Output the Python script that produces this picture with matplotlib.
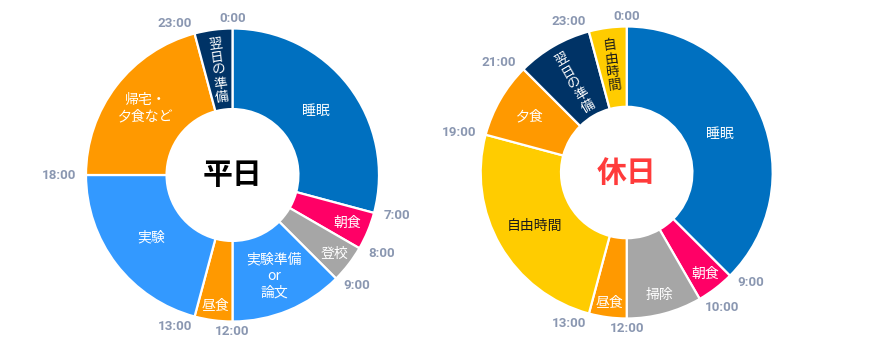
import numpy as np
import matplotlib
matplotlib.use('Agg')
import matplotlib.pyplot as plt

plt.rcParams['font.family'] = ['Noto Sans CJK JP', 'DejaVu Sans']

# ---------------- data ----------------
weekday_title = '平日'
weekday_labels = ['睡眠', '朝食', '登校', '実験準備\nor\n論文', '昼食', '実験', '帰宅・\n夕食など', '翌日の準備']
weekday_hours = [7, 1, 1, 3, 1, 5, 5, 1]

holiday_title = '休日'
holiday_labels = ['睡眠', '朝食', '掃除', '昼食', '自由時間', '夕食', '翌日の準備', '自由時間']
holiday_hours = [9, 1, 2, 1, 6, 2, 2, 1]

# ---------------- style ----------------
C_SLEEP = '#0070c0'
C_MEAL = '#ff9900'
C_BREAK = '#ff0066'
C_GRAY = '#a6a6a6'
C_LIGHT = '#3399ff'
C_NAVY = '#003366'
C_FREE = '#ffcc00'

weekday_colors = [C_SLEEP, C_BREAK, C_GRAY, C_LIGHT, C_MEAL, C_LIGHT, C_MEAL, C_NAVY]
holiday_colors = [C_SLEEP, C_BREAK, C_GRAY, C_MEAL, C_FREE, C_MEAL, C_NAVY, C_FREE]
weekday_text = ['white'] * 8
holiday_text = ['white', 'white', 'white', 'white', '#1a1a1a', 'white', 'white', '#1a1a1a']
weekday_radius = [0.715, 0.85, 0.88, 0.745, 0.905, 0.70, 0.75, 0.72]
holiday_radius = [0.69, 0.88, 0.87, 0.90, 0.73, 0.77, 0.71, 0.74]
weekday_vertical = [False] * 7 + [True]
holiday_vertical = [False] * 6 + [True, True]

HOUR_COLOR = '#8a97b1'

fig = plt.figure(figsize=(8.75, 3.5), dpi=100)
ax = fig.add_axes([0, 0, 1, 1])


def donut(cx, cy, R, hours, labels, colors, tcolors, radii, vertical, title, title_color):
    ax.pie(hours, colors=colors, startangle=90, counterclock=False,
           radius=R, center=(cx, cy), frame=True,
           wedgeprops=dict(width=R * 0.55, edgecolor='white', linewidth=1.6))
    bounds = np.concatenate([[0], np.cumsum(hours)])
    total = bounds[-1]
    for i, lab in enumerate(labels):
        mid = (bounds[i] + bounds[i + 1]) / 2 / total * 2 * np.pi
        r = radii[i] * R
        x = cx + r * np.sin(mid)
        y = cy + r * np.cos(mid)
        if vertical[i]:
            txt = '\n'.join(lab)
            rot = (-np.degrees(mid)) % 360
            ax.text(x, y, txt, color=tcolors[i], fontsize=9.8, ha='center', va='center',
                    rotation=rot, rotation_mode='anchor', linespacing=0.95,
                    multialignment='center')
        else:
            ax.text(x, y, lab, color=tcolors[i], fontsize=10, ha='center', va='center',
                    linespacing=1.25, multialignment='center')
    for b in bounds[:-1]:
        a = b / total * 2 * np.pi
        s, c = np.sin(a), np.cos(a)
        x = cx + (R + 10) * s
        y = cy + (R + 10) * c
        ha = 'left' if s > 0.05 else ('right' if s < -0.05 else 'center')
        ax.text(x, y, f'{int(b)}:00', color=HOUR_COLOR, fontsize=9.6,
                fontweight='bold', family=['Roboto', 'DejaVu Sans'],
                ha=ha, va='center')
    ax.text(cx, cy, title, color=title_color, fontsize=21.5, fontweight='bold',
            ha='center', va='center')


donut(232.5, 175, 146.5, weekday_hours, weekday_labels, weekday_colors, weekday_text,
      weekday_radius, weekday_vertical, weekday_title, '#000000')
donut(626.7, 177.5, 146, holiday_hours, holiday_labels, holiday_colors, holiday_text,
      holiday_radius, holiday_vertical, holiday_title, '#ff3b3b')

ax.set_xlim(0, 875)
ax.set_ylim(0, 350)
ax.set_aspect('equal', adjustable='box')
ax.axis('off')

fig.savefig('out.png', dpi=100, facecolor='white')
